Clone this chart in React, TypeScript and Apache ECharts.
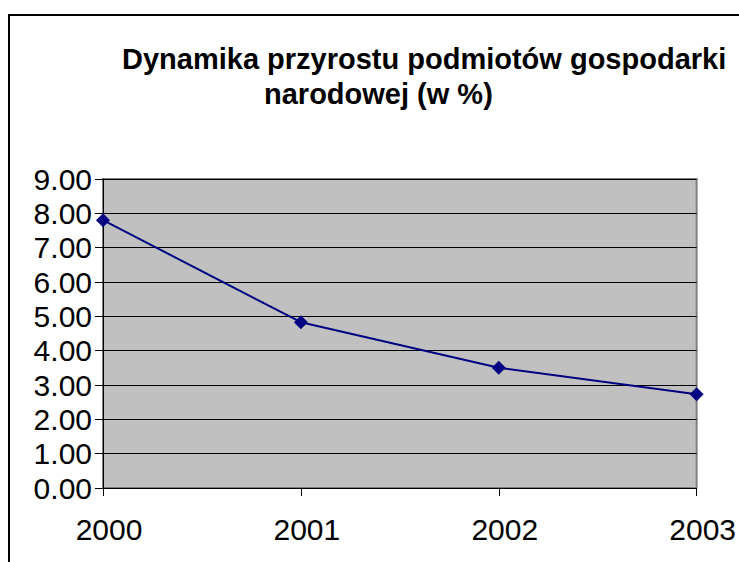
import React, { useEffect, useRef } from "react";
import * as echarts from "echarts";

const titleLine1 = "Dynamika przyrostu podmiotów gospodarki";
const titleLine2 = "narodowej (w %)";
const years = ["2000", "2001", "2002", "2003"];
const growth = [7.8, 4.83, 3.5, 2.73];
const yMin = 0;
const yMax = 9;
const yStep = 1;

const FONT = "Arial, 'Liberation Sans', sans-serif";

export default function App() {
  const ref = useRef<HTMLDivElement>(null);
  useEffect(() => {
    if (!ref.current) return;
    const chart = echarts.init(ref.current, undefined, { renderer: "svg" });
    chart.setOption({
      animation: false,
      backgroundColor: "#ffffff",
      title: [
        {
          text: titleLine1,
          left: 122,
          top: 44,
          padding: 0,
          textStyle: { fontFamily: FONT, fontSize: 29, fontWeight: "bold", color: "#000" },
        },
        {
          text: titleLine2,
          left: 264,
          top: 79,
          padding: 0,
          textStyle: { fontFamily: FONT, fontSize: 29, fontWeight: "bold", color: "#000" },
        },
      ],
      graphic: [
        {
          type: "rect",
          shape: { x: 9, y: 15, width: 900, height: 700 },
          style: { fill: "none", stroke: "#000", lineWidth: 2 },
          silent: true,
        },
      ],
      grid: {
        left: 103,
        top: 179,
        right: 41,
        bottom: 74,
        show: true,
        backgroundColor: "#C0C0C0",
        borderColor: "#808080",
        borderWidth: 2,
      },
      xAxis: {
        type: "category",
        data: years,
        boundaryGap: false,
        axisLine: { show: true, lineStyle: { color: "#000", width: 1 } },
        axisTick: { show: true, length: 8, lineStyle: { color: "#000" } },
        axisLabel: {
          fontFamily: FONT,
          fontSize: 30,
          color: "#000",
          margin: 26,
          padding: [0, 0, 0, 12],
        },
        splitLine: { show: false },
      },
      yAxis: {
        type: "value",
        min: yMin,
        max: yMax,
        interval: yStep,
        axisLine: { show: true, lineStyle: { color: "#000", width: 1 } },
        axisTick: { show: true, length: 8, lineStyle: { color: "#000" } },
        axisLabel: {
          fontFamily: FONT,
          fontSize: 30,
          color: "#000",
          margin: 11,
          padding: [5, 0, 0, 0],
          formatter: (v: number) => v.toFixed(2),
        },
        splitLine: { show: true, lineStyle: { color: "#000", width: 1 } },
      },
      series: [
        {
          type: "line",
          data: growth,
          symbol: "diamond",
          symbolSize: 14,
          lineStyle: { color: "#000080", width: 2 },
          itemStyle: { color: "#000080" },
        },
      ],
    });
    return () => chart.dispose();
  }, []);
  return (
    <div
      ref={ref}
      style={{ position: "fixed", left: 0, top: 0, width: 739, height: 562 }}
    />
  );
}
